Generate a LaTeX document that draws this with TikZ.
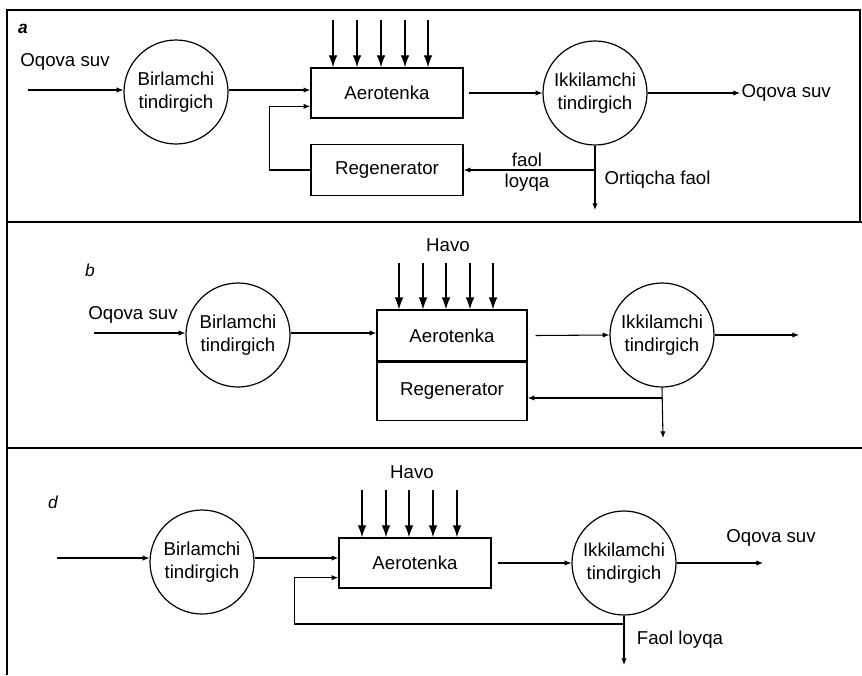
\documentclass[tikz,border=0pt]{standalone}
\usepackage{fontspec}
\setmainfont{Liberation Sans}
\usetikzlibrary{arrows.meta,positioning}

\begin{document}
\begin{tikzpicture}[
    x=0.75pt, y=-0.75pt,
    every node/.style={font=\fontsize{14}{17}\selectfont},
    circ/.style={draw, circle, line width=0.9pt, minimum size=78pt, inner sep=0pt, align=center},
    tank/.style={draw, rectangle, line width=1.1pt, minimum width=114pt, minimum height=37.5pt, inner sep=0pt},
    txt/.style={inner sep=1pt},
    panel/.style={font=\fontsize{13}{15}\selectfont\itshape},
    flow/.style={-{Latex[length=5pt,width=4pt]}, line width=0.8pt},
    air/.style={-{Latex[length=9pt,width=6.5pt]}, line width=0.9pt},
    frame/.style={line width=1.4pt}
]
    \useasboundingbox (0,0) rectangle (862,675);

    % --- frames ---
    \draw[frame] (7,675) -- (7,10) -- (860,10) -- (860,222);
    \draw[frame] (7,222) -- (862,222);
    \draw[frame] (7,448) -- (862,448);

    % --- Panel a ---
    \node[panel, font=\fontsize{13}{15}\selectfont\bfseries\itshape] (lba) at (23,29) {a};
    \node[txt] (ina) at (65,62) {Oqova suv};
    \coordinate (sa) at (28,90);

    \node[circ] (bira) at (176,92) {Birlamchi\\tindirgich};
    \node[tank] (aera) at (387,93) {Aerotenka};
    \node[tank, minimum height=38pt] (rega) at (387,170) {Regenerator};
    \node[circ] (ikka) at (595,93) {Ikkilamchi\\tindirgich};
    \node[txt, anchor=west] (outa) at (740,93) {Oqova suv};

    \foreach \x in {333,357,381,405,428}
        \draw[air] (\x,20) -- ({\x,0} |- aera.north);

    \draw[flow] (sa) -- (sa -| bira.west);
    \draw[flow] (bira.east |- sa) -- (aera.west |- sa);
    \draw[flow] (rega.west) -- ++(-41,0) |- ([yshift=-10pt]aera.west);
    \draw[flow] ([xshift=4pt]aera.east) -- (ikka.west);
    \draw[flow] (ikka.east) -- (outa.west);

    % excess sludge
    \coordinate (exa) at (595,210);
    \draw[flow] (ikka.south) -- (exa);
    \draw[flow] (ikka.south |- rega.east) -- (rega.east);
    \node[txt, align=center, font=\fontsize{14}{16}\selectfont] (fla) at (527,172) {faol\\loyqa};
    \node[txt, anchor=west] (orta) at (603,180) {Ortiqcha faol};

    % --- Panel b ---
    \node[panel] (lbb) at (90,270) {b};
    \node[txt] (inb) at (133,315) {Oqova suv};
    \coordinate (sb) at (94,333);

    \node[circ] (birb) at (238,335) {Birlamchi\\tindirgich};
    \node[tank, minimum width=112.5pt, minimum height=38pt] (aerb) at (452,335.5) {Aerotenka};
    \node[tank, minimum width=112.5pt, minimum height=43.5pt, below=0pt of aerb] (regb) {Regenerator};
    \node[circ] (ikkb) at (662,335) {Ikkilamchi\\tindirgich};
    \node[txt] (havb) at (448,245) {Havo};

    \foreach \x in {399,423,446,470,493}
        \draw[air] (\x,263) -- ({\x,0} |- aerb.north);

    \draw[flow] (sb) -- (sb -| birb.west);
    \draw[flow] (birb.east |- sb) -- (aerb.west |- sb);
    \draw[flow] ([xshift=6pt]aerb.east) -- (ikkb.west);
    \coordinate (ob) at (799,335);
    \draw[flow] (ikkb.east) -- (ob);

    \coordinate (exb) at (663,438);
    \coordinate (rbr) at ([yshift=-5pt]regb.east);
    \draw[flow] (ikkb.south) -- (exb);
    \draw[flow] (ikkb.south |- rbr) -- (rbr);

    % --- Panel d ---
    \node[panel] (lbd) at (53,502) {d};
    \coordinate (sd) at (57,558);

    \node[circ] (bird) at (202,562) {Birlamchi\\tindirgich};
    \node[tank] (aerd) at (415,563) {Aerotenka};
    \node[circ] (ikkd) at (624,563) {Ikkilamchi\\tindirgich};
    \node[txt] (havd) at (412,472) {Havo};
    \node[txt] (outd) at (771,538) {Oqova suv};

    \foreach \x in {362,386,409,433,457}
        \draw[air] (\x,490) -- ({\x,0} |- aerd.north);

    \draw[flow] (sd) -- (sd -| bird.west);
    \draw[flow] (bird.east |- sd) -- (aerd.west |- sd);
    \draw[flow] ([xshift=5pt]aerd.east) -- (ikkd.west);
    \coordinate (od) at (763,563);
    \draw[flow] (ikkd.east) -- (od);

    % return sludge
    \coordinate (exd) at (624,665);
    \coordinate (jd) at (624,624);
    \draw[flow] (ikkd.south) -- (exd);
    \draw[flow] (jd) -| ([xshift=-33pt,yshift=-11pt]aerd.west) -- ([yshift=-11pt]aerd.west);
    \node[txt] (fld) at (680,640) {Faol loyqa};

\end{tikzpicture}
\end{document}
